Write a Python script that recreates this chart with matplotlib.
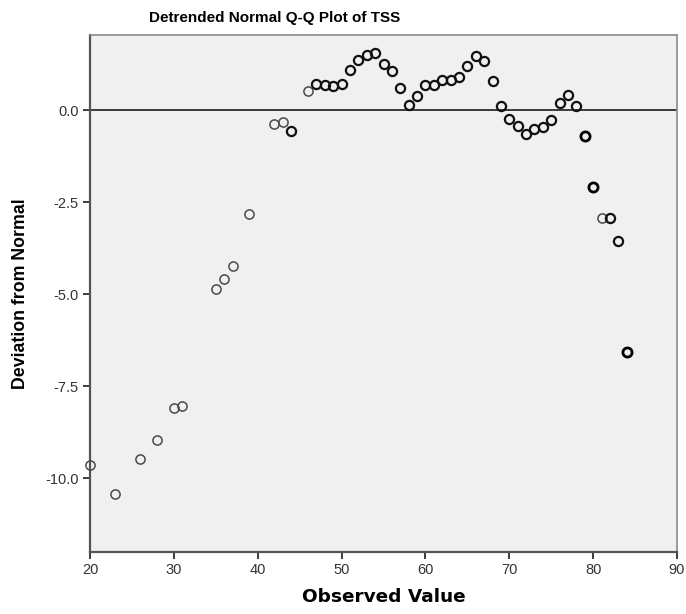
import matplotlib
matplotlib.use("Agg")
import matplotlib.pyplot as plt

# Observed TSS values and their deviation from the normal expectation
observed = [20, 23, 26, 28, 30, 31, 35, 36, 37, 39, 42, 43, 44, 46, 47, 48, 49,
            50, 51, 52, 53, 54, 55, 56, 57, 58, 59, 60, 61, 62, 63, 64, 65, 66,
            67, 68, 69, 70, 71, 72, 73, 74, 75, 76, 77, 78, 79, 80, 81, 82, 83, 84]
deviation = [-9.63, -10.42, -9.48, -8.95, -8.09, -8.03, -4.86, -4.59, -4.23, -2.82,
             -0.37, -0.32, -0.57, 0.54, 0.72, 0.70, 0.66, 0.73, 1.09, 1.36, 1.52,
             1.56, 1.25, 1.06, 0.60, 0.15, 0.40, 0.68, 0.70, 0.82, 0.82, 0.90,
             1.22, 1.47, 1.34, 0.79, 0.11, -0.22, -0.42, -0.63, -0.51, -0.45,
             -0.27, 0.20, 0.41, 0.12, -0.69, -2.07, -2.92, -2.92, -3.55, -6.57]
# number of cases sharing each observed value
cases = [1, 1, 1, 1, 1, 1, 1, 1, 1, 1, 1, 1, 2, 1, 2, 2, 2, 2, 2, 2, 2, 2, 2, 2,
         2, 2, 2, 2, 2, 2, 2, 2, 2, 2, 2, 2, 2, 2, 2, 2, 2, 2, 2, 2, 2, 2, 3, 3,
         1, 2, 2, 3]

x_ticks = [20, 30, 40, 50, 60, 70, 80, 90]
y_ticks = [0.0, -2.5, -5.0, -7.5, -10.0]

ARIAL = "Liberation Sans"

fig = plt.figure(figsize=(6.86, 6.14), dpi=100)
ax = fig.add_axes([0.1312, 0.101, 0.8557, 0.842])
ax.set_facecolor("#f0f0f0")

ax.axhline(0, color="#3c3c3c", lw=1.4, zorder=1)

for xv, yv, n in zip(observed, deviation, cases):
    if n == 1:
        ec, lw = "#4a4a4a", 1.1
    elif n == 2:
        ec, lw = "#111111", 1.6
    else:
        ec, lw = "#000000", 2.0
    ax.plot([xv], [yv], "o", ms=6.6, mfc="none", mec=ec, mew=lw, zorder=3,
            clip_on=False)

ax.set_xlim(20, 90)
ax.set_ylim(-12.0, 2.05)
ax.set_xticks(x_ticks)
ax.set_xticklabels([str(t) for t in x_ticks])
ax.set_yticks(y_ticks)
ax.set_yticklabels([f"{t:.1f}" for t in y_ticks])

ax.tick_params(axis="both", direction="out", length=5, width=1.4,
               color="#3c3c3c", labelsize=10.5, labelcolor="#333333", pad=3)
for lab in ax.get_xticklabels() + ax.get_yticklabels():
    lab.set_family(ARIAL)

for side in ("left", "bottom"):
    ax.spines[side].set_color("#555555")
    ax.spines[side].set_linewidth(1.6)
for side in ("top", "right"):
    ax.spines[side].set_color("#8a8a8a")
    ax.spines[side].set_linewidth(1.2)

ax.set_xlabel("Observed Value", fontsize=13.3, fontweight="bold",
              family="DejaVu Sans", labelpad=8)
ax.set_ylabel("Deviation from Normal", fontsize=12.8, fontweight="bold",
              family=ARIAL, labelpad=12)

fig.text(0.40, 0.971, "Detrended Normal Q-Q Plot of TSS", ha="center", va="center",
         fontsize=11, fontweight="bold", family=ARIAL)

fig.savefig("out.png", dpi=100, facecolor="white")
